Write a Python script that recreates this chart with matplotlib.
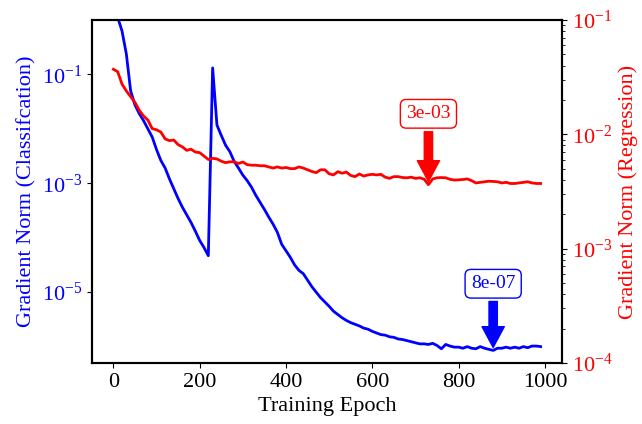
import numpy as np
import matplotlib
matplotlib.use("Agg")
import matplotlib.pyplot as plt
from matplotlib.ticker import LogLocator, NullLocator, NullFormatter

plt.rcParams["font.family"] = "serif"
plt.rcParams["font.serif"] = ["Liberation Serif", "DejaVu Serif"]
plt.rcParams["mathtext.fontset"] = "stix"

# epochs (every 10)
epochs = list(range(0, 1000, 10))

# gradient norms, stored as log10 values
cls_log10 = [
    0.30, 0.05, -0.20, -0.62, -1.30, -1.56, -1.72, -1.85, -2.00, -2.15,
    -2.38, -2.58, -2.72, -2.92, -3.10, -3.28, -3.44, -3.58, -3.72, -3.88,
    -4.05, -4.18, -4.33, -0.88, -1.93, -2.12, -2.30, -2.42, -2.60, -2.72,
    -2.85, -2.95, -3.07, -3.22, -3.35, -3.48, -3.62, -3.75, -3.90, -4.12,
    -4.24, -4.36, -4.50, -4.60, -4.66, -4.78, -4.90, -5.00, -5.10, -5.18,
    -5.26, -5.35, -5.41, -5.47, -5.52, -5.56, -5.59, -5.62, -5.66, -5.68,
    -5.72, -5.75, -5.78, -5.79, -5.82, -5.83, -5.86, -5.87, -5.89, -5.91,
    -5.93, -5.95, -5.95, -5.96, -5.94, -5.98, -6.04, -5.96, -5.99, -6.01,
    -6.01, -6.03, -6.00, -6.03, -6.04, -6.00, -6.03, -6.05, -6.07, -6.03,
    -6.03, -6.01, -6.03, -6.01, -6.03, -6.00, -6.02, -5.99, -5.99, -6.00,
]
reg_log10 = [
    -1.431, -1.452, -1.560, -1.620, -1.670, -1.720, -1.790, -1.840, -1.875, -1.950,
    -1.960, -1.980, -2.040, -2.055, -2.050, -2.090, -2.110, -2.140, -2.130, -2.155,
    -2.160, -2.190, -2.220, -2.210, -2.215, -2.235, -2.248, -2.240, -2.240, -2.255,
    -2.242, -2.265, -2.270, -2.270, -2.275, -2.275, -2.285, -2.295, -2.285, -2.295,
    -2.290, -2.300, -2.300, -2.285, -2.295, -2.310, -2.325, -2.335, -2.310, -2.310,
    -2.345, -2.355, -2.327, -2.340, -2.330, -2.360, -2.370, -2.347, -2.365, -2.355,
    -2.350, -2.355, -2.350, -2.375, -2.385, -2.370, -2.370, -2.378, -2.380, -2.375,
    -2.385, -2.380, -2.392, -2.440, -2.390, -2.380, -2.378, -2.380, -2.393, -2.400,
    -2.398, -2.395, -2.390, -2.405, -2.425, -2.420, -2.415, -2.410, -2.412, -2.415,
    -2.425, -2.420, -2.430, -2.430, -2.425, -2.420, -2.415, -2.425, -2.430, -2.430,
]

cls_mark = (880, "8e-07")
reg_mark = (730, "3e-03")

cls_norm = 10.0 ** np.array(cls_log10)
reg_norm = 10.0 ** np.array(reg_log10)

fig = plt.figure(figsize=(6.42, 4.24), dpi=100)
ax = fig.add_axes([0.1433, 0.1439, 0.8754 - 0.1433, 0.9528 - 0.1439])
ax2 = ax.twinx()

ax.plot(epochs, cls_norm, color="blue", lw=2)
ax2.plot(epochs, reg_norm, color="red", lw=2)

ax.set_yscale("log")
ax2.set_yscale("log")
ax.set_ylim(5e-7, 1)
ax2.set_ylim(1e-4, 1e-1)

ax.set_yticks([1e-1, 1e-3, 1e-5])
ax.yaxis.set_minor_locator(NullLocator())
ax.yaxis.set_minor_formatter(NullFormatter())
ax2.yaxis.set_major_locator(LogLocator(base=10, numticks=10))
ax2.yaxis.set_minor_locator(LogLocator(base=10, subs=np.arange(2, 10), numticks=20))
ax2.yaxis.set_minor_formatter(NullFormatter())

ax.set_xticks([0, 200, 400, 600, 800, 1000])

ax.set_xlabel("Training Epoch", fontsize=16)
ax.set_ylabel("Gradient Norm (Classifcation)", fontsize=16, color="blue")
ax2.set_ylabel("Gradient Norm (Regression)", fontsize=16, color="red")

ax.tick_params(axis="x", labelsize=16)
ax.tick_params(axis="y", labelsize=16, labelcolor="blue")
ax2.tick_params(axis="y", labelsize=16, labelcolor="red")

for a in (ax, ax2):
    for s in a.spines.values():
        s.set_linewidth(1.5)

# annotate the low points
i = epochs.index(cls_mark[0])
ax.annotate(cls_mark[1], xy=(epochs[i], cls_norm[i]), xytext=(0, 48),
            textcoords="offset points", ha="center", va="center", fontsize=14,
            color="blue",
            bbox=dict(boxstyle="round", fc="white", ec="blue"),
            arrowprops=dict(facecolor="blue", edgecolor="blue", shrink=0.05,
                            width=6, headwidth=16, headlength=15))

j = epochs.index(reg_mark[0])
ax2.annotate(reg_mark[1], xy=(epochs[j], reg_norm[j]), xytext=(0, 51),
             textcoords="offset points", ha="center", va="center", fontsize=14,
             color="red",
             bbox=dict(boxstyle="round", fc="white", ec="red"),
             arrowprops=dict(facecolor="red", edgecolor="red", shrink=0.05,
                             width=6, headwidth=16, headlength=15))

fig.savefig("out.png", dpi=100)
